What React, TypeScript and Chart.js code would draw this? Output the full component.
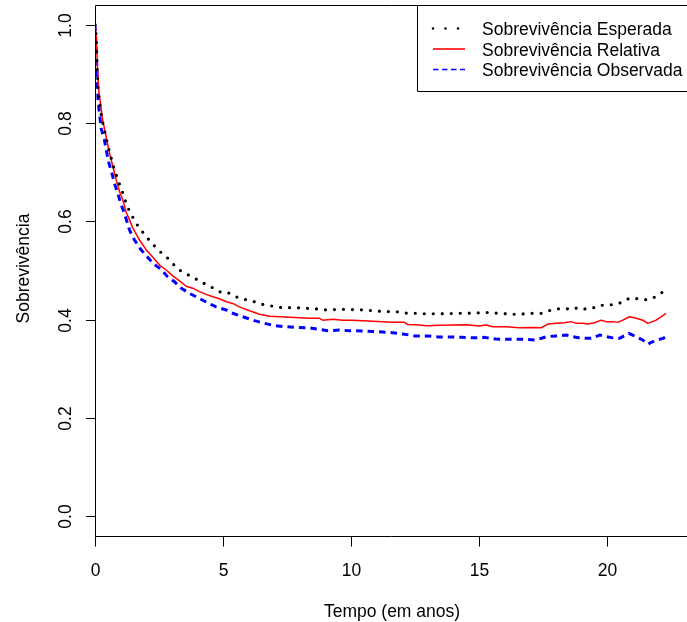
import React, { useEffect, useRef } from "react";
import { Chart, registerables } from "chart.js";

Chart.register(...registerables);

// ---- Data ----
const xTicks = [0, 5, 10, 15, 20];
const yTicks = [0, 0.2, 0.4, 0.6, 0.8, 1.0];
const yTickLabels = ["0.0", "0.2", "0.4", "0.6", "0.8", "1.0"];
const xTitle = "Tempo (em anos)";
const yTitle = "Sobrevivência";
const seriesLabels = [
  "Sobrevivência Esperada",
  "Sobrevivência Relativa",
  "Sobrevivência Observada",
];

const tEsperada = [
  0, 0.047, 0.086, 0.125, 0.215,
  0.28, 0.36, 0.44, 0.52, 0.62, 0.71, 0.82, 0.93, 1.06, 1.16,
  1.28, 1.43, 1.57, 1.77, 1.96, 2.17, 2.59, 2.82, 3.02, 3.26,
  3.54, 3.81, 4.09, 4.38, 4.64, 4.94, 5.25, 5.58, 5.91, 6.23,
  6.55, 6.88, 7.21, 7.95, 8.64, 8.99, 9.72, 10.44, 11.15, 11.83,
  12.16, 12.52, 12.83, 13.5, 14.21, 14.89, 15.21, 15.76, 16.35, 16.62,
  16.91, 17.43, 17.69, 18.02, 18.47, 18.7, 18.93, 19.42, 19.68, 20.12,
  20.38, 20.62, 20.88, 21.31, 21.53, 21.77, 22.01, 22.29,
];
const sEsperada = [
  1.0, 0.977, 0.911, 0.867, 0.825,
  0.806, 0.787, 0.769, 0.75, 0.731, 0.713, 0.696, 0.679, 0.662, 0.645,
  0.628, 0.613, 0.599, 0.584, 0.572, 0.558, 0.536, 0.526, 0.515, 0.502,
  0.494, 0.486, 0.479, 0.47, 0.464, 0.455, 0.454, 0.445, 0.4405, 0.4364,
  0.431, 0.428, 0.425, 0.424, 0.422, 0.42, 0.421, 0.42, 0.417, 0.416,
  0.4135, 0.413, 0.412, 0.412, 0.413, 0.4135, 0.415, 0.413, 0.411, 0.411,
  0.413, 0.413, 0.4175, 0.422, 0.422, 0.425, 0.421, 0.423, 0.429, 0.43,
  0.432, 0.436, 0.444, 0.442, 0.4405, 0.443, 0.4507, 0.46,
];

const tRelativa = [
  0, 0.05, 0.1, 0.15, 0.3,
  0.57, 0.83, 0.96, 1.09, 1.22, 1.35, 1.48,
  1.74, 2.0, 2.26, 2.52, 2.78, 3.04, 3.3, 3.56, 3.82, 4.08, 4.34, 4.6, 4.86, 5.13, 5.38,
  5.64, 6.04, 6.43, 6.82, 7.21, 7.6, 7.99, 8.38, 8.77, 8.9, 9.29, 9.68, 10.07, 10.46, 10.85, 11.24, 11.63, 12.09, 12.22, 12.68,
  12.94, 13.46, 13.98, 14.5, 15.02, 15.28, 15.54, 16.06, 16.58, 17.1, 17.43, 17.69, 18.02, 18.34, 18.6,
  18.8, 19.05, 19.25, 19.51, 19.77, 19.97, 20.23, 20.42, 20.62, 20.88, 21.14, 21.4, 21.59, 21.92, 22.31,
];
const sRelativa = [
  1.0, 0.975, 0.908, 0.865, 0.806,
  0.738, 0.684, 0.66, 0.643, 0.618, 0.603, 0.586,
  0.562, 0.542, 0.527, 0.511, 0.501, 0.489, 0.479, 0.468, 0.464, 0.457, 0.4515, 0.4466, 0.4425, 0.4365, 0.433,
  0.426, 0.418, 0.411, 0.407, 0.406, 0.405, 0.404, 0.403, 0.4027, 0.399, 0.4006, 0.399, 0.399, 0.398, 0.397, 0.396, 0.3945, 0.3945, 0.39, 0.389,
  0.3877, 0.3884, 0.389, 0.3897, 0.387, 0.389, 0.3856, 0.3856, 0.3836, 0.3843, 0.3836, 0.391, 0.3925, 0.3937, 0.396,
  0.3925, 0.3925, 0.391, 0.3937, 0.399, 0.396, 0.396, 0.3945, 0.399, 0.406, 0.4027, 0.399, 0.3925, 0.399, 0.413,
];

const tObservada = [
  0, 0.04, 0.08, 0.12, 0.24,
  0.37, 0.44, 0.53, 0.66, 0.76, 0.89, 1.0,
  1.15, 1.35, 1.54, 1.8, 2.06, 2.26, 2.59, 2.84, 3.11, 3.37,
  3.69, 4.08, 4.41, 4.73, 5.13, 5.38, 5.77, 6.23, 6.62, 7.01,
  7.47, 7.86, 8.31, 8.7, 9.09, 9.55, 9.94, 10.4, 10.85, 11.24,
  11.63, 12.02, 12.48, 12.94, 13.39, 13.85, 14.3, 14.76, 15.21, 15.67,
  16.16, 16.71, 17.23, 17.63, 18.02, 18.41, 18.66, 18.99, 19.38, 19.71,
  19.97, 20.23, 20.49, 20.85, 21.14, 21.4, 21.59, 21.86, 22.18, 22.31,
];
const sObservada = [
  1.0, 0.96, 0.9, 0.845, 0.789,
  0.765, 0.745, 0.721, 0.698, 0.677, 0.657, 0.637,
  0.616, 0.582, 0.562, 0.542, 0.527, 0.5145, 0.502, 0.487, 0.477, 0.464,
  0.4535, 0.443, 0.434, 0.426, 0.4196, 0.413, 0.406, 0.398, 0.3925, 0.3877,
  0.3856, 0.3843, 0.3836, 0.381, 0.3775, 0.379, 0.3775, 0.377, 0.376, 0.375,
  0.3734, 0.371, 0.367, 0.367, 0.365, 0.365, 0.364, 0.363, 0.364, 0.3606,
  0.36, 0.36, 0.3586, 0.3653, 0.367, 0.3687, 0.3653, 0.362, 0.362, 0.3687,
  0.3653, 0.363, 0.362, 0.372, 0.3653, 0.3586, 0.35, 0.357, 0.362, 0.3653,
];

const FONT = '"Liberation Sans", Arial, Helvetica, sans-serif';
const FS = 17.5;

function toPoints(t: number[], s: number[]) {
  const n = Math.min(t.length, s.length);
  const out: { x: number; y: number }[] = [];
  for (let i = 0; i < n; i++) out.push({ x: t[i], y: s[i] });
  return out;
}

const styles = [
  { color: "#000000", width: 3.2, dash: [0, 9], cap: "round" as CanvasLineCap, lDash: [0, 12.5], lWidth: 2.6 },
  { color: "#FF0000", width: 1.5, dash: [] as number[], cap: "butt" as CanvasLineCap, lDash: [] as number[], lWidth: 1.6 },
  { color: "#0000FF", width: 3, dash: [6.5, 5], cap: "butt" as CanvasLineCap, lDash: [5.5, 3.5], lWidth: 1.5 },
];

const rPlot = {
  id: "rplot",
  afterDraw(chart: any) {
    const ctx: CanvasRenderingContext2D = chart.ctx;
    const a = chart.chartArea;
    const xs = chart.scales.x;
    const ys = chart.scales.y;
    ctx.save();
    ctx.strokeStyle = "#000";
    ctx.fillStyle = "#000";
    ctx.lineWidth = 1;
    ctx.setLineDash([]);
    const L = Math.round(a.left) + 0.5;
    const T = Math.round(a.top) + 0.5;
    const B = Math.round(a.bottom) + 0.5;
    // box (right side beyond canvas)
    ctx.beginPath();
    ctx.moveTo(a.right + 2, T);
    ctx.lineTo(L, T);
    ctx.lineTo(L, B);
    ctx.lineTo(a.right + 2, B);
    ctx.stroke();

    ctx.font = `${FS}px ${FONT}`;
    // y axis ticks + labels
    yTicks.forEach((v, i) => {
      const py = Math.round(ys.getPixelForValue(v)) + 0.5;
      ctx.beginPath();
      ctx.moveTo(L - 9.5, py);
      ctx.lineTo(L, py);
      ctx.stroke();
      ctx.save();
      ctx.translate(71, py);
      ctx.rotate(-Math.PI / 2);
      ctx.textAlign = "center";
      ctx.textBaseline = "alphabetic";
      ctx.fillText(yTickLabels[i], 0, 0);
      ctx.restore();
    });
    // x axis ticks + labels
    xTicks.forEach((v) => {
      const px = Math.round(xs.getPixelForValue(v)) + 0.5;
      ctx.beginPath();
      ctx.moveTo(px, B);
      ctx.lineTo(px, B + 10);
      ctx.stroke();
      ctx.textAlign = "center";
      ctx.textBaseline = "alphabetic";
      ctx.fillText(String(v), px, 576);
    });
    // titles
    ctx.textAlign = "center";
    ctx.fillText(xTitle, (a.left + a.right) / 2 + 1, 617);
    ctx.save();
    ctx.translate(28.5, (a.top + a.bottom) / 2 - 2);
    ctx.rotate(-Math.PI / 2);
    ctx.fillText(yTitle, 0, 0);
    ctx.restore();

    // legend
    const lx = 417.5;
    const ly = T;
    const lb = 91.5;
    ctx.fillStyle = "#fff";
    ctx.fillRect(lx, ly, a.right + 2 - lx, lb - ly);
    ctx.strokeStyle = "#000";
    ctx.lineWidth = 1;
    ctx.beginPath();
    ctx.moveTo(a.right + 2, ly);
    ctx.lineTo(lx, ly);
    ctx.lineTo(lx, lb);
    ctx.lineTo(a.right + 2, lb);
    ctx.stroke();
    const baselines = [35, 55.5, 76];
    seriesLabels.forEach((lab, i) => {
      const st = styles[i];
      const sy = baselines[i] - 6.5;
      ctx.save();
      ctx.strokeStyle = st.color;
      ctx.lineWidth = st.lWidth;
      ctx.lineCap = st.cap;
      ctx.setLineDash(st.lDash);
      ctx.beginPath();
      ctx.moveTo(433, sy);
      ctx.lineTo(i === 0 ? 460 : 465, sy);
      ctx.stroke();
      ctx.restore();
      ctx.fillStyle = "#000";
      ctx.textAlign = "left";
      ctx.textBaseline = "alphabetic";
      ctx.fillText(lab, 482, baselines[i]);
    });
    ctx.restore();
  },
};

export default function App() {
  const ref = useRef<HTMLCanvasElement | null>(null);
  useEffect(() => {
    if (!ref.current) return;
    const series = [
      toPoints(tEsperada, sEsperada),
      toPoints(tRelativa, sRelativa),
      toPoints(tObservada, sObservada),
    ];
    const chart = new Chart(ref.current, {
      type: "line",
      data: {
        datasets: series.map((d, i) => ({
          label: seriesLabels[i],
          data: d,
          borderColor: styles[i].color,
          borderWidth: styles[i].width,
          borderDash: styles[i].dash,
          borderCapStyle: styles[i].cap,
          borderJoinStyle: "round",
          pointRadius: 0,
          fill: false,
          tension: 0,
        })),
      },
      options: {
        animation: false,
        responsive: false,
        devicePixelRatio: 1,
        layout: { padding: { left: 95, top: 5, right: 0, bottom: 86 } },
        scales: {
          x: { type: "linear", min: 0, max: 23.125, display: false },
          y: { type: "linear", min: -0.04, max: 1.04, display: false },
        },
        plugins: { legend: { display: false }, tooltip: { enabled: false } },
      },
      plugins: [rPlot],
    } as any);
    return () => chart.destroy();
  }, []);
  return (
    <div style={{ position: "absolute", left: 0, top: 0, width: 687, height: 622, background: "#fff" }}>
      <canvas ref={ref} width={687} height={622} style={{ display: "block" }} />
    </div>
  );
}
